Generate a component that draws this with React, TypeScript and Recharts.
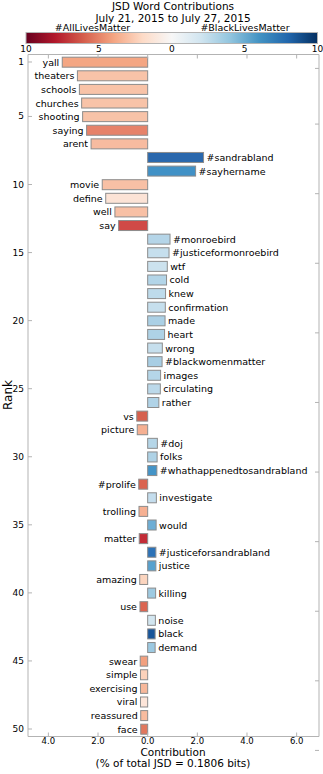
import React from "react";
import { BarChart, Bar, XAxis, YAxis } from "recharts";

const words = [
  "yall", "theaters", "schools", "churches", "shooting", "saying", "arent",
  "#sandrabland", "#sayhername", "movie", "define", "well", "say",
  "#monroebird", "#justiceformonroebird", "wtf", "cold", "knew", "confirmation",
  "made", "heart", "wrong", "#blackwomenmatter", "images", "circulating", "rather",
  "vs", "picture", "#doj", "folks", "#whathappenedtosandrabland", "#prolife",
  "investigate", "trolling", "would", "matter", "#justiceforsandrabland", "justice",
  "amazing", "killing", "use", "noise", "black", "demand", "swear", "simple",
  "exercising", "viral", "reassured", "face",
];

// negative = #AllLivesMatter side, positive = #BlackLivesMatter side
const contributions = [
  -3.44, -2.83, -2.75, -2.66, -2.62, -2.46, -2.28,
  2.25, 1.93, -1.83, -1.69, -1.32, -1.17,
  0.9, 0.86, 0.79, 0.76, 0.72, 0.71,
  0.7, 0.68, 0.59, 0.58, 0.52, 0.51, 0.45,
  -0.44, -0.42, 0.39, 0.38, 0.37, -0.36,
  0.35, -0.35, 0.34, -0.34, 0.33, 0.33,
  -0.32, 0.32, -0.31, 0.31, 0.3, 0.3, -0.3, -0.29,
  -0.29, -0.29, -0.28, -0.28,
];

const barColors = [
  "#f4a683", "#f8c3a8", "#f8c3a8", "#f8c3a8", "#f8c3a8", "#e6826a", "#f7bba0",
  "#2a68ad", "#4191c6", "#f8c0a5", "#fce3d6", "#f8c0a5", "#d04a47",
  "#b5d5e8", "#c6dfed", "#cce2ee", "#b3d5e8", "#bedbeb", "#c6dfed",
  "#abd0e5", "#aed2e6", "#c6dfed", "#a8cee4", "#b5d6e8", "#bcd9ea", "#b0d3e7",
  "#d6604d", "#f5b092", "#b5d6e8", "#aed2e6", "#4494c7", "#da6350",
  "#c4dded", "#f6b092", "#6eaed5", "#c32c37", "#2c72b7", "#58a1ce",
  "#fbd5bf", "#9ecae1", "#db6551", "#d3e6f0", "#185599", "#9cc9e1", "#f2a07f", "#fcd2bb",
  "#f7b89b", "#fde5d9", "#f8bc9f", "#e1785e",
];

const rankTicks = [1, 5, 10, 15, 20, 25, 30, 35, 40, 45, 50];
const contributionTicks = [-4, -2, 0, 2, 4, 6];
const colorbarTicks = [-10, -5, 0, 5, 10];
const rdbu = [
  "#67001f", "#b2182b", "#d6604d", "#f4a582", "#fddbc7", "#f7f7f7",
  "#d1e5f0", "#92c5de", "#4393c3", "#2166ac", "#053061",
];

const data = words.map((word, i) => ({
  rank: i + 1,
  word,
  value: contributions[i],
  color: barColors[i],
}));

const FONT = "DejaVu Sans";
const SPINE = "#b3b3b3";

const BarWithWord = (props: any) => {
  const { x, y, width, height, payload } = props;
  const left = Math.min(x, x + width);
  const w = Math.abs(width);
  const neg = payload.value < 0;
  return (
    <g>
      <rect x={left} y={y} width={w} height={height} fill={payload.color} stroke="#8c8c8c" strokeWidth={1} />
      <text
        x={neg ? left - 3 : left + w + 3}
        y={y + height / 2 + 3.5}
        textAnchor={neg ? "end" : "start"}
        fontFamily={FONT}
        fontSize={9.5}
        fill="#000"
      >
        {payload.word}
      </text>
    </g>
  );
};

const BottomTick = (props: any) => {
  const { x, y, payload } = props;
  return (
    <g>
      <line x1={x} x2={x} y1={y} y2={y - 4} stroke={SPINE} />
      <text x={x} y={y + 7} textAnchor="middle" fontFamily={FONT} fontSize={8.5} fill="#000">
        {Math.abs(payload.value).toFixed(1)}
      </text>
    </g>
  );
};

const TopTick = (props: any) => {
  const { x, y } = props;
  return <line x1={x} x2={x} y1={y} y2={y + 4} stroke={SPINE} />;
};

const LeftTick = (props: any) => {
  const { x, y, payload } = props;
  return (
    <g>
      <line x1={x} x2={x + 4} y1={y} y2={y} stroke={SPINE} />
      <text x={x - 4} y={y + 3} textAnchor="end" fontFamily={FONT} fontSize={9} fill="#000">
        {payload.value}
      </text>
    </g>
  );
};

const RightTick = (props: any) => {
  const { x, y } = props;
  return <line x1={x} x2={x - 4} y1={y} y2={y} stroke={SPINE} />;
};

const Colorbar = () => {
  const x0 = 26;
  const x1 = 317.5;
  const pos = (v: number) => x0 + ((v + 10) / 20) * (x1 - x0);
  return (
    <svg width={323} height={54} style={{ position: "absolute", left: 0, top: 0 }}>
      <defs>
        <linearGradient id="rdbu" x1="0" x2="1" y1="0" y2="0">
          {rdbu.map((c, i) => (
            <stop key={i} offset={i / (rdbu.length - 1)} stopColor={c} />
          ))}
        </linearGradient>
      </defs>
      <text x={173} y={10} textAnchor="middle" fontFamily={FONT} fontSize={10.5}>
        JSD Word Contributions
      </text>
      <text x={173} y={21.5} textAnchor="middle" fontFamily={FONT} fontSize={10.5}>
        July 21, 2015 to July 27, 2015
      </text>
      <text x={92.5} y={31} textAnchor="middle" fontFamily={FONT} fontSize={9.5}>
        #AllLivesMatter
      </text>
      <text x={245} y={31} textAnchor="middle" fontFamily={FONT} fontSize={9.5}>
        #BlackLivesMatter
      </text>
      <rect x={x0} y={32.5} width={x1 - x0} height={11} fill="url(#rdbu)" stroke={SPINE} strokeWidth={1} />
      {colorbarTicks.map((t) => (
        <text key={t} x={pos(t)} y={51.5} textAnchor="middle" fontFamily={FONT} fontSize={9}>
          {Math.abs(t)}
        </text>
      ))}
    </svg>
  );
};

export default function App() {
  return (
    <div style={{ position: "absolute", left: 0, top: 0, width: 323, height: 774, background: "#fff" }}>
      <BarChart
        width={323}
        height={774}
        data={data}
        layout="vertical"
        margin={{ top: 53.5, right: 3, bottom: 17.5, left: 0 }}
      >
        <XAxis
          type="number"
          dataKey="value"
          domain={[-4.82, 6.9]}
          allowDataOverflow
          ticks={contributionTicks}
          height={20}
          tickSize={0}
          tickMargin={0}
          tickLine={false}
          axisLine={{ stroke: SPINE }}
          tick={<BottomTick />}
        />
        <XAxis
          xAxisId="top"
          orientation="top"
          type="number"
          domain={[-4.82, 6.9]}
          allowDataOverflow
          ticks={contributionTicks}
          height={1}
          tickSize={0}
          tickMargin={0}
          tickLine={false}
          axisLine={{ stroke: SPINE }}
          tick={<TopTick />}
        />
        <YAxis
          type="number"
          dataKey="rank"
          domain={[0.45, 50.55]}
          allowDataOverflow
          ticks={rankTicks}
          width={28}
          tickSize={0}
          tickMargin={0}
          tickLine={false}
          axisLine={{ stroke: SPINE }}
          tick={<LeftTick />}
        />
        <YAxis
          yAxisId="right"
          orientation="right"
          type="number"
          domain={[0.45, 50.55]}
          allowDataOverflow
          ticks={rankTicks}
          width={1}
          tickSize={0}
          tickMargin={0}
          tickLine={false}
          axisLine={{ stroke: SPINE }}
          tick={<RightTick />}
        />
        <Bar dataKey="value" barSize={10} isAnimationActive={false} shape={<BarWithWord />} />
      </BarChart>
      <Colorbar />
      <svg width={20} height={40} style={{ position: "absolute", left: 0, top: 375 }}>
        <text x={12} y={20} transform="rotate(-90 12 20)" textAnchor="middle" fontFamily={FONT} fontSize={12}>
          Rank
        </text>
      </svg>
      <svg width={323} height={30} style={{ position: "absolute", left: 0, top: 744 }}>
        <text x={173} y={11.5} textAnchor="middle" fontFamily={FONT} fontSize={10.5}>
          Contribution
        </text>
        <text x={173} y={22.5} textAnchor="middle" fontFamily={FONT} fontSize={10.5}>
          (% of total JSD = 0.1806 bits)
        </text>
      </svg>
    </div>
  );
}
